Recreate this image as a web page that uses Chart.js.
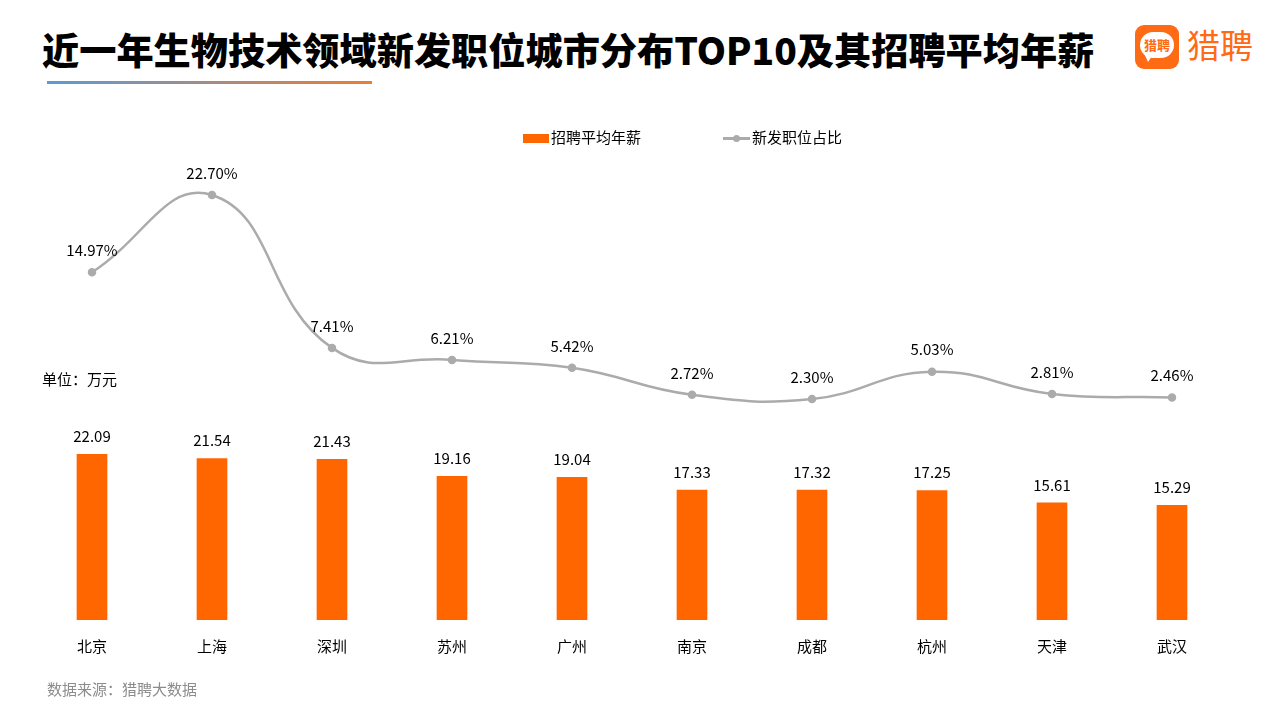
<!DOCTYPE html>
<html>
<head>
<meta charset="utf-8">
<script src="https://cdn.jsdelivr.net/npm/chart.js@4"></script>
<style>
  body { margin: 0; background: #fff; font-family: "Microsoft YaHei", "Noto Sans CJK SC", sans-serif; }
  #wrap { position: relative; width: 1280px; height: 720px; overflow: hidden; }
  #title { position: absolute; left: 42px; top: 22px; font-size: 37.2px; font-weight: 900; color: #000; white-space: nowrap; font-family: "Noto Sans CJK SC", sans-serif; }
  #underline { position: absolute; left: 47px; top: 81px; width: 325px; height: 3px; background: linear-gradient(to right, #5B9BD5, #ED7D31); }
  #logo { position: absolute; left: 1135px; top: 25px; width: 44px; height: 44px; border-radius: 9px; background: #FF6A14; }
  #bubble { position: absolute; left: 5px; top: 7px; width: 34px; height: 26px; border-radius: 13px; background: #fff; color: #FF6A14; font-size: 13px; font-weight: 700; line-height: 26px; text-align: center; }
  #tail { position: absolute; left: 9px; top: 28px; width: 0; height: 0; border-left: 4px solid transparent; border-right: 6px solid transparent; border-top: 9px solid #fff; }
  #logotext { position: absolute; left: 1187px; top: 20px; font-size: 33px; color: #FF6A14; font-family: "Noto Sans CJK SC", sans-serif; }
  .legend { position: absolute; top: 126px; font-size: 15px; color: #000; white-space: nowrap; }
  #lg1 { left: 523px; }
  #lg2 { left: 723px; }
  .sw-bar { display: inline-block; width: 26px; height: 9px; background: #FF6600; vertical-align: middle; margin-right: 2px; }
  .sw-line { display: inline-block; position: relative; width: 27px; height: 3px; background: #ABABAB; vertical-align: middle; margin-right: 2px; }
  .sw-line i { position: absolute; left: 10px; top: -2px; width: 7px; height: 7px; border-radius: 50%; background: #ABABAB; }
  #unit { position: absolute; left: 42px; top: 368px; font-size: 15px; color: #000; }
  #source { position: absolute; left: 47px; top: 678px; font-size: 15px; color: #8C8C8C; }
  #c { position: absolute; left: 0; top: 0; }
</style>
</head>
<body>
<div id="wrap">
  <div id="title">近一年生物技术领域新发职位城市分布TOP10及其招聘平均年薪</div>
  <div id="underline"></div>
  <div id="logo"><div id="bubble">猎聘</div><div id="tail"></div></div>
  <div id="logotext">猎聘</div>
  <canvas id="c" width="1280" height="720"></canvas>
  <div class="legend" id="lg1"><span class="sw-bar"></span>招聘平均年薪</div>
  <div class="legend" id="lg2"><span class="sw-line"><i></i></span>新发职位占比</div>
  <div id="unit">单位：万元</div>
  <div id="source">数据来源：猎聘大数据</div>
</div>
<script>
const cities = ["北京", "上海", "深圳", "苏州", "广州", "南京", "成都", "杭州", "天津", "武汉"];
const salary = [22.09, 21.54, 21.43, 19.16, 19.04, 17.33, 17.32, 17.25, 15.61, 15.29];
const share = [14.97, 22.70, 7.41, 6.21, 5.42, 2.72, 2.30, 5.03, 2.81, 2.46];

const labelFont = '15px "Microsoft YaHei", "Noto Sans CJK SC", sans-serif';

// draws the value labels above bars and points
const valueLabels = {
    id: 'valueLabels',
    afterDatasetsDraw(chart) {
        const ctx = chart.ctx;
        ctx.save();
        ctx.font = labelFont;
        ctx.fillStyle = '#000';
        ctx.textAlign = 'center';
        ctx.textBaseline = 'middle';
        chart.data.datasets.forEach((ds, i) => {
            const meta = chart.getDatasetMeta(i);
            meta.data.forEach((el, j) => {
                if (ds.type === 'bar') {
                    ctx.fillText(ds.data[j].toFixed(2), el.x, el.y - 18);
                } else {
                    ctx.fillText(ds.data[j].toFixed(2) + '%', el.x, el.y - 22);
                }
            });
        });
        ctx.restore();
    }
};

new Chart(document.getElementById('c'), {
    data: {
        labels: cities,
        datasets: [
            {
                type: 'line',
                label: '新发职位占比',
                data: share,
                yAxisID: 'yLine',
                borderColor: '#ABABAB',
                backgroundColor: '#ABABAB',
                borderWidth: 2.5,
                pointRadius: 3,
                pointHoverRadius: 3,
                tension: 0.45,
                order: 0
            },
            {
                type: 'bar',
                label: '招聘平均年薪',
                data: salary,
                yAxisID: 'yBar',
                backgroundColor: '#FF6600',
                barThickness: 30,
                order: 1
            }
        ]
    },
    options: {
        responsive: false,
        animation: false,
        layout: { padding: { left: 32, right: 48, top: 150, bottom: 48 } },
        plugins: { legend: { display: false }, tooltip: { enabled: false } },
        scales: {
            x: {
                grid: { display: false, drawTicks: false },
                border: { display: false },
                ticks: { color: '#000', font: { size: 15, family: '"Microsoft YaHei", "Noto Sans CJK SC", sans-serif' }, padding: 17 }
            },
            yBar: { display: false, min: 0, max: 62.67 },
            yLine: { display: false, min: -19.8, max: 27.2 }
        }
    },
    plugins: [valueLabels]
});
</script>
</body>
</html>
